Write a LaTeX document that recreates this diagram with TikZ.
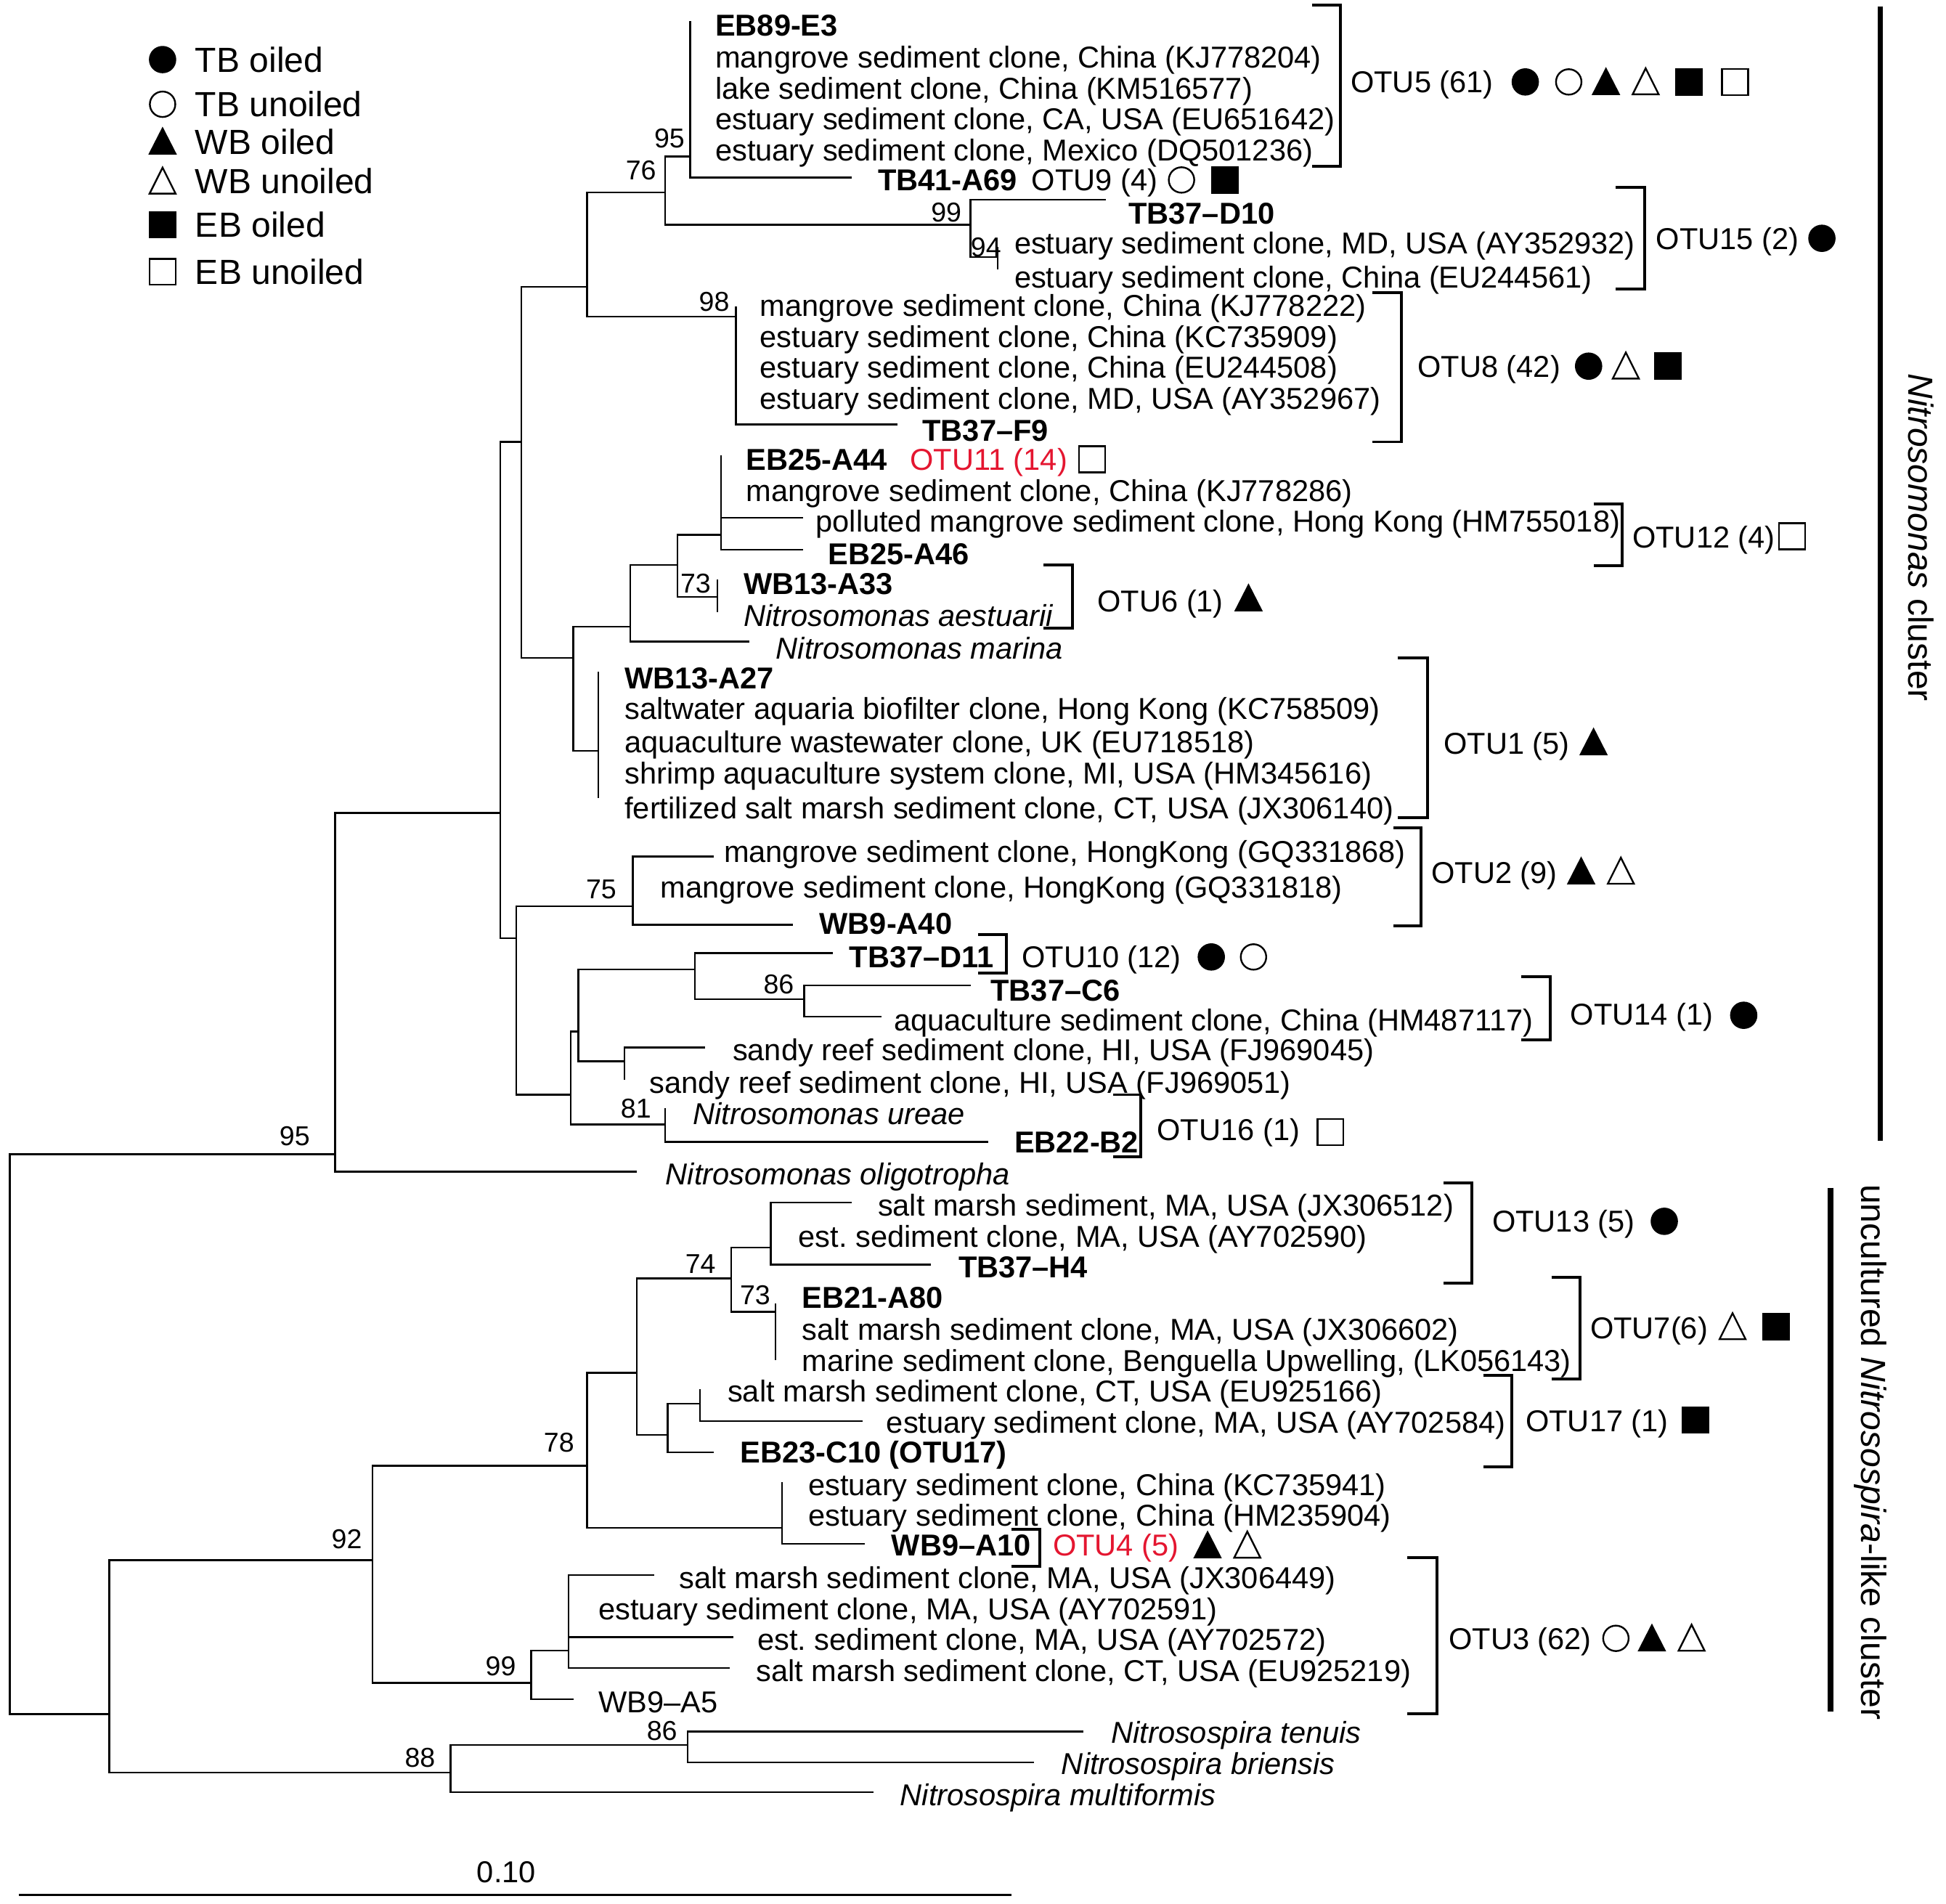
\documentclass[tikz,border=0pt]{standalone}
\usepackage{fontspec}
\setmainfont{Liberation Sans}
\definecolor{otured}{RGB}{228,22,48}
\frenchspacing

\begin{document}
\begin{tikzpicture}[x=0.2mm,y=-0.2mm,
  br/.style={line width=0.8pt},
  brk/.style={line width=1.3pt},
  clbar/.style={line width=2.6pt},
  lbl/.style={anchor=west,inner sep=0pt,text height=9.9pt,text depth=0pt,font=\fontsize{13.85}{15}\selectfont},
  tipb/.style={lbl,font=\fontsize{13.85}{15}\selectfont\bfseries},
  tipi/.style={lbl,font=\fontsize{13.85}{15}\selectfont\itshape},
  boot/.style={anchor=east,inner sep=0pt,text height=8.9pt,text depth=0pt,font=\fontsize{12.5}{14}\selectfont},
  leg/.style={anchor=west,inner sep=0pt,text height=11.5pt,text depth=0pt,font=\fontsize{16}{18}\selectfont},
  clab/.style={inner sep=0pt,font=\fontsize{16}{18}\selectfont,rotate=-90},
  fcirc/.pic={\fill (0,0) circle (2.2mm);},
  ocirc/.pic={\draw[line width=0.8pt] (0,0) circle (2.05mm);},
  ftri/.pic={\fill (-11.5,10.5) -- (11.5,10.5) -- (0,-12) -- cycle;},
  otri/.pic={\draw[line width=0.8pt] (-10.5,10) -- (10.5,10) -- (0,-11) -- cycle;},
  fsq/.pic={\fill (-11,-11) rectangle (11,11);},
  osq/.pic={\draw[line width=0.8pt] (-10.5,-10.5) rectangle (10.5,10.5);}]
\useasboundingbox (0,0) rectangle (1568,1534);

% legend
\pic at (131,48) {fcirc};  \node[leg] (lg1) at (157,48) {TB oiled};
\pic at (131,84) {ocirc};  \node[leg] (lg2) at (157,84) {TB unoiled};
\pic at (131,114) {ftri};  \node[leg] (lg3) at (157,114) {WB oiled};
\pic at (131,146) {otri};  \node[leg] (lg4) at (157,146) {WB unoiled};
\pic at (131,181) {fsq};   \node[leg] (lg5) at (157,181) {EB oiled};
\pic at (131,219) {osq};   \node[leg] (lg6) at (157,219) {EB unoiled};

% tree points, Nitrosomonas part
\coordinate (r0) at (8,1155);
\coordinate (r1) at (270,930);
\coordinate (r2) at (88,1381);
\coordinate (m0) at (403,655);
\coordinate (lolig) at (513,944);
\coordinate (m1) at (420,356);
\coordinate (m2) at (416,756);
\coordinate (m3) at (473,231);
\coordinate (m4) at (462,530);
\coordinate (m5) at (536,155);
\coordinate (m6) at (593,255);
\coordinate (m7) at (556,126);
\coordinate (m8) at (782,181);
\coordinate (leb89) at (556,17);
\coordinate (ltb41) at (686,143);
\coordinate (ld10) at (891,161);
\coordinate (m9) at (804,207);
\coordinate (lay932) at (804,199);
\coordinate (leu561) at (804,217);
\coordinate (lkj222) at (593,247);
\coordinate (lf9) at (723,342);
\coordinate (m10) at (508,505);
\coordinate (m11) at (482,605);
\coordinate (m12) at (546,455);
\coordinate (lmar) at (604,517);
\coordinate (m13) at (581,431);
\coordinate (m14) at (578,481);
\coordinate (la44) at (581,367);
\coordinate (lhm018) at (647,417);
\coordinate (la46) at (647,443);
\coordinate (la33) at (578,467);
\coordinate (laes) at (578,493);
\coordinate (la27) at (482,541);
\coordinate (ljx140) at (482,643);
\coordinate (m15) at (510,730);
\coordinate (m16) at (460,882);
\coordinate (lgq868) at (575,690);
\coordinate (la40) at (639,745);
\coordinate (m17) at (466,831);
\coordinate (m18) at (536,906);
\coordinate (m19) at (560,781);
\coordinate (m20) at (503,855);
\coordinate (ld11) at (671,768);
\coordinate (m21) at (648,805);
\coordinate (lc6) at (782,794);
\coordinate (lhm117) at (710,819);
\coordinate (lfj045) at (568,844);
\coordinate (lfj051) at (503,870);
\coordinate (lure) at (536,893);
\coordinate (lb2) at (796,920);
% Nitrosospira part
\coordinate (q1) at (300,1257);
\coordinate (q2) at (363,1428);
\coordinate (q3) at (473,1181);
\coordinate (q4) at (428,1356);
\coordinate (q5) at (513,1106);
\coordinate (q6) at (630,1231);
\coordinate (q7) at (589,1030);
\coordinate (q8) at (538,1156);
\coordinate (q9) at (621,1005);
\coordinate (q10) at (625,1057);
\coordinate (ljx512) at (686,969);
\coordinate (lh4) at (750,1019);
\coordinate (la80) at (625,1050);
\coordinate (llk143) at (625,1096);
\coordinate (q11) at (564,1131);
\coordinate (lc10) at (575,1170);
\coordinate (leu166) at (564,1119);
\coordinate (lay584) at (695,1145);
\coordinate (lkc941) at (630,1194);
\coordinate (la10) at (697,1244);
\coordinate (q12) at (458,1330);
\coordinate (la5) at (462,1369);
\coordinate (ljx449) at (527,1269);
\coordinate (lay572) at (591,1319);
\coordinate (leu219) at (588,1344);
\coordinate (q13) at (554,1406);
\coordinate (lmult) at (704,1444);
\coordinate (lten) at (873,1395);
\coordinate (lbri) at (833,1420);

% branches
\draw[br] (r0) |- (r1) (r0) |- (r2)
  (r1) |- (m0) (r1) |- (lolig)
  (m0) |- (m1) (m0) |- (m2)
  (m1) |- (m3) (m1) |- (m4)
  (m3) |- (m5) (m3) |- (m6)
  (m5) |- (m7) (m5) |- (m8)
  (m7) |- (leb89) (m7) |- (ltb41)
  (m8) |- (ld10) (m8) |- (m9)
  (m9) |- (lay932) (m9) |- (leu561)
  (m6) |- (lkj222) (m6) |- (lf9)
  (m4) |- (m10) (m4) |- (m11)
  (m10) |- (m12) (m10) |- (lmar)
  (m12) |- (m13) (m12) |- (m14)
  (m13) |- (la44) (m13) |- (lhm018) (m13) |- (la46)
  (m14) |- (la33) (m14) |- (laes)
  (m11) |- (la27) (m11) |- (ljx140)
  (m2) |- (m15) (m2) |- (m16)
  (m15) |- (lgq868) (m15) |- (la40)
  (m16) |- (m17) (m16) |- (m18)
  (m17) |- (m19) (m17) |- (m20)
  (m19) |- (ld11) (m19) |- (m21)
  (m21) |- (lc6) (m21) |- (lhm117)
  (m20) |- (lfj045) (m20) |- (lfj051)
  (m18) |- (lure) (m18) |- (lb2);
\draw[br] (r2) |- (q1) (r2) |- (q2)
  (q1) |- (q3) (q1) |- (q4)
  (q3) |- (q5) (q3) |- (q6)
  (q5) |- (q7) (q5) |- (q8)
  (q7) |- (q9) (q7) |- (q10)
  (q9) |- (ljx512) (q9) |- (lh4)
  (q10) |- (la80) (q10) |- (llk143)
  (q8) |- (q11) (q8) |- (lc10)
  (q11) |- (leu166) (q11) |- (lay584)
  (q6) |- (lkc941) (q6) |- (la10)
  (q4) |- (q12) (q4) |- (la5)
  (q12) |- (ljx449) (q12) |- (lay572) (q12) |- (leu219)
  (q2) |- (q13) (q2) |- (lmult)
  (q13) |- (lten) (q13) |- (lbri);

% bootstrap values
\node[boot] (b95a) at (552,111) {95};
\node[boot] (b76) at (529,137) {76};
\node[boot] (b99a) at (775,171) {99};
\node[boot] (b94) at (807,199) {94};
\node[boot] (b98) at (588,243) {98};
\node[boot] (b73a) at (573,470) {73};
\node[boot] (b75) at (497,716) {75};
\node[boot] (b86a) at (640,793) {86};
\node[boot] (b81) at (525,893) {81};
\node[boot] (b95b) at (250,915) {95};
\node[boot] (b92) at (292,1240) {92};
\node[boot] (b78) at (463,1162) {78};
\node[boot] (b74) at (577,1018) {74};
\node[boot] (b73b) at (621,1043) {73};
\node[boot] (b99b) at (416,1342) {99};
\node[boot] (b86b) at (546,1394) {86};
\node[boot] (b88) at (351,1416) {88};

% tip labels, Nitrosomonas cluster
\node[tipb] (eb89) at (576,20) {EB89-E3};
\node[lbl] (kj204) at (576,46) {mangrove sediment clone, China (KJ778204)};
\node[lbl] (km577) at (576,71) {lake sediment clone, China (KM516577)};
\node[lbl] (eu642) at (576,96) {estuary sediment clone, CA, USA (EU651642)};
\node[lbl] (dq236) at (576,121) {estuary sediment clone, Mexico (DQ501236)};
\node[tipb] (tb41) at (707,145) {TB41-A69};
\node[lbl] (otu9) at (831,145) {OTU9 (4)};
\pic at (952,145) {ocirc}; \pic at (987,145) {fsq};
\node[tipb] (d10) at (909,172) {TB37–D10};
\node[lbl] (ay932) at (817,196) {estuary sediment clone, MD, USA (AY352932)};
\node[lbl] (eu561) at (817,223) {estuary sediment clone, China (EU244561)};
\node[lbl] (kj222) at (612,246) {mangrove sediment clone, China (KJ778222)};
\node[lbl] (kc909) at (612,271) {estuary sediment clone, China (KC735909)};
\node[lbl] (eu508) at (612,296) {estuary sediment clone, China (EU244508)};
\node[lbl] (ay967) at (612,321) {estuary sediment clone, MD, USA (AY352967)};
\node[tipb] (f9) at (743,347) {TB37–F9};
\node[tipb] (a44) at (601,370) {EB25-A44};
\node[lbl,text=otured] (otu11) at (733,370) {OTU11 (14)};
\pic at (880,370) {osq};
\node[lbl] (kj286) at (601,395) {mangrove sediment clone, China (KJ778286)};
\node[lbl] (hm018) at (657,420) {polluted mangrove sediment clone, Hong Kong (HM755018)};
\node[tipb] (a46) at (667,446) {EB25-A46};
\node[tipb] (a33) at (599,470) {WB13-A33};
\node[tipi] (aes) at (599,496) {Nitrosomonas aestuarii};
\node[tipi] (mar) at (625,522) {Nitrosomonas marina};
\node[tipb] (a27) at (503,546) {WB13-A27};
\node[lbl] (kc509) at (503,571) {saltwater aquaria biofilter clone, Hong Kong (KC758509)};
\node[lbl] (eu518) at (503,598) {aquaculture wastewater clone, UK (EU718518)};
\node[lbl] (hm616) at (503,623) {shrimp aquaculture system clone, MI, USA (HM345616)};
\node[lbl] (jx140) at (503,651) {fertilized salt marsh sediment clone, CT, USA (JX306140)};
\node[lbl] (gq868) at (583,686) {mangrove sediment clone, HongKong (GQ331868)};
\node[lbl] (gq818) at (532,715) {mangrove sediment clone, HongKong (GQ331818)};
\node[tipb] (a40) at (660,744) {WB9-A40};
\node[tipb] (d11) at (684,771) {TB37–D11};
\node[tipb] (c6) at (798,798) {TB37–C6};
\node[lbl] (hm117) at (720,822) {aquaculture sediment clone, China (HM487117)};
\node[lbl] (fj045) at (590,846) {sandy reef sediment clone, HI, USA (FJ969045)};
\node[lbl] (fj051) at (523,872) {sandy reef sediment clone, HI, USA (FJ969051)};
\node[tipi] (ure) at (558,897) {Nitrosomonas ureae};
\node[tipb] (b2) at (817,920) {EB22-B2};
\node[tipi] (olig) at (536,946) {Nitrosomonas oligotropha};

% tip labels, Nitrosospira part
\node[lbl] (jx512) at (707,971) {salt marsh sediment, MA, USA (JX306512)};
\node[lbl] (ay590) at (643,996) {est. sediment clone, MA, USA (AY702590)};
\node[tipb] (h4) at (772,1021) {TB37–H4};
\node[tipb] (a80) at (646,1045) {EB21-A80};
\node[lbl] (jx602) at (646,1071) {salt marsh sediment clone, MA, USA (JX306602)};
\node[lbl] (lk143) at (646,1096) {marine sediment clone, Benguella Upwelling, (LK056143)};
\node[lbl] (eu166) at (586,1121) {salt marsh sediment clone, CT, USA (EU925166)};
\node[lbl] (ay584) at (714,1146) {estuary sediment clone, MA, USA (AY702584)};
\node[tipb] (c10) at (596,1170) {EB23-C10 (OTU17)};
\node[lbl] (kc941) at (651,1196) {estuary sediment clone, China (KC735941)};
\node[lbl] (hm904) at (651,1221) {estuary sediment clone, China (HM235904)};
\node[tipb] (a10) at (718,1245) {WB9–A10};
\node[lbl,text=otured] (otu4) at (848,1245) {OTU4 (5)};
\pic at (973,1245) {ftri}; \pic at (1005,1245) {otri};
\node[lbl] (jx449) at (547,1271) {salt marsh sediment clone, MA, USA (JX306449)};
\node[lbl] (ay591) at (482,1296) {estuary sediment clone, MA, USA (AY702591)};
\node[lbl] (ay572) at (610,1321) {est. sediment clone, MA, USA (AY702572)};
\node[lbl] (eu219) at (609,1346) {salt marsh sediment clone, CT, USA (EU925219)};
\node[lbl] (a5) at (482,1371) {WB9–A5};
\node[tipi] (ten) at (895,1396) {Nitrosospira tenuis};
\node[tipi] (bri) at (855,1421) {Nitrosospira briensis};
\node[tipi] (mult) at (725,1446) {Nitrosospira multiformis};

% OTU brackets
\draw[brk] (1057,4) -| (1080,134) -- (1057,134);
\draw[brk] (1302,151) -| (1325,233) -- (1302,233);
\draw[brk] (1106,236) -| (1129,356) -- (1106,356);
\draw[brk] (1284,406) -| (1307,456) -- (1284,456);
\draw[brk] (841,455) -| (864,506) -- (841,506);
\draw[brk] (1126,530) -| (1150,659) -- (1126,659);
\draw[brk] (1123,667) -| (1145,746) -- (1123,746);
\draw[brk] (788,753) -| (811,784) -- (788,784);
\draw[brk] (1226,787) -| (1249,838) -- (1226,838);
\draw[brk] (897,882) -| (919,932) -- (897,932);
\draw[brk] (1163,953) -| (1186,1034) -- (1163,1034);
\draw[brk] (1250,1029) -| (1273,1111) -- (1250,1111);
\draw[brk] (1195,1108) -| (1218,1182) -- (1195,1182);
\draw[brk] (815,1232) -| (838,1262) -- (815,1262);
\draw[brk] (1134,1255) -| (1158,1381) -- (1134,1381);

% OTU labels and samples
\node[lbl] (otu5) at (1088,66) {OTU5 (61)};
\pic at (1229,66) {fcirc}; \pic at (1264,66) {ocirc}; \pic at (1294,66) {ftri};
\pic at (1326,66) {otri}; \pic at (1361,66) {fsq}; \pic at (1398,66) {osq};
\node[lbl] (otu15) at (1334,192) {OTU15 (2)};
\pic at (1468,192) {fcirc};
\node[lbl] (otu8) at (1142,295) {OTU8 (42)};
\pic at (1280,295) {fcirc}; \pic at (1310,295) {otri}; \pic at (1344,295) {fsq};
\node[lbl] (otu12) at (1315,433) {OTU12 (4)};
\pic at (1444,432) {osq};
\node[lbl] (otu6) at (884,484) {OTU6 (1)};
\pic at (1006,482) {ftri};
\node[lbl] (otu1) at (1163,599) {OTU1 (5)};
\pic at (1284,598) {ftri};
\node[lbl] (otu2) at (1153,703) {OTU2 (9)};
\pic at (1274,702) {ftri}; \pic at (1306,702) {otri};
\node[lbl] (otu10) at (823,771) {OTU10 (12)};
\pic at (976,771) {fcirc}; \pic at (1010,771) {ocirc};
\node[lbl] (otu14) at (1265,817) {OTU14 (1)};
\pic at (1405,818) {fcirc};
\node[lbl] (otu16) at (932,910) {OTU16 (1)};
\pic at (1072,912) {osq};
\node[lbl] (otu13) at (1202,984) {OTU13 (5)};
\pic at (1341,984) {fcirc};
\node[lbl] (otu7) at (1281,1070) {OTU7(6)};
\pic at (1396,1069) {otri}; \pic at (1431,1069) {fsq};
\node[lbl] (otu17) at (1229,1145) {OTU17 (1)};
\pic at (1366,1144) {fsq};
\node[lbl] (otu3) at (1167,1320) {OTU3 (62)};
\pic at (1302,1320) {ocirc}; \pic at (1331,1320) {ftri}; \pic at (1363,1320) {otri};

% cluster bars
\draw[clbar] (1515,5) -- (1515,919);
\draw[clbar] (1475,957) -- (1475,1379);
\node[clab] (nmc) at (1548,433) {\textit{Nitrosomonas} cluster};
\node[clab] (nsc) at (1507,1170) {uncultured \textit{Nitrosospira}-like cluster};

% scale bar
\coordinate (sb0) at (15,1527);
\coordinate (sb1) at (815,1527);
\draw[line width=1pt] (sb0) -- (sb1);
\node[lbl,anchor=center] (sbl) at (408,1508) {0.10};
\end{tikzpicture}
\end{document}
